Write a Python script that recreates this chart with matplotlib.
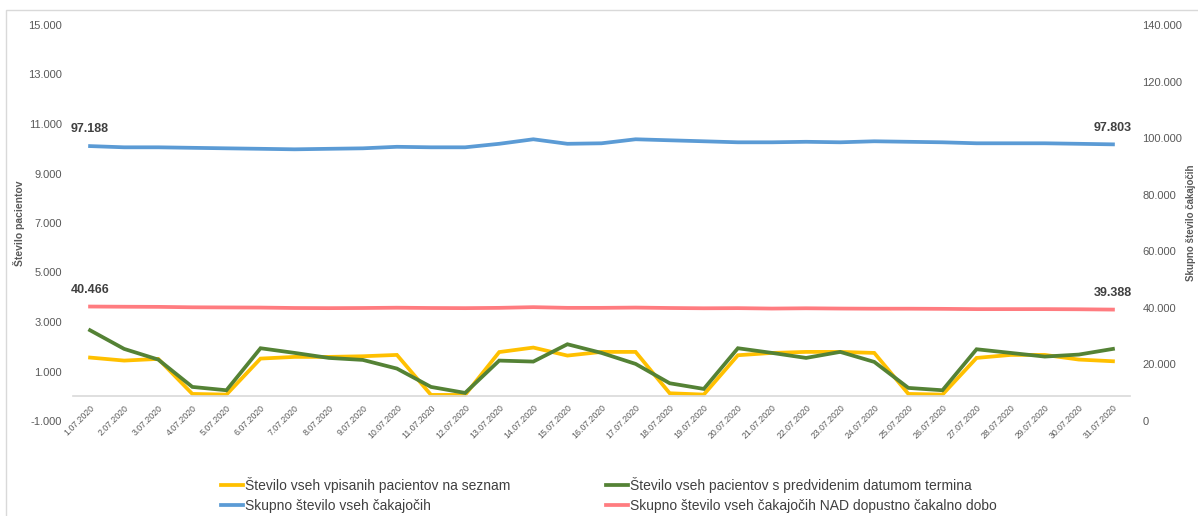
import matplotlib
matplotlib.use("Agg")
import matplotlib.pyplot as plt
from matplotlib.lines import Line2D
from matplotlib.patches import Rectangle
from matplotlib.ticker import FuncFormatter, FixedLocator

dates = ["1.07.2020", "2.07.2020", "3.07.2020", "4.07.2020", "5.07.2020", "6.07.2020",
         "7.07.2020", "8.07.2020", "9.07.2020", "10.07.2020", "11.07.2020", "12.07.2020",
         "13.07.2020", "14.07.2020", "15.07.2020", "16.07.2020", "17.07.2020", "18.07.2020",
         "19.07.2020", "20.07.2020", "21.07.2020", "22.07.2020", "23.07.2020", "24.07.2020",
         "25.07.2020", "26.07.2020", "27.07.2020", "28.07.2020", "29.07.2020", "30.07.2020",
         "31.07.2020"]

vpisani = [1563, 1441, 1509, 94, 67, 1522, 1590, 1590, 1616, 1670, 54, 54, 1785, 1967, 1643,
           1792, 1792, 121, 67, 1657, 1751, 1792, 1792, 1751, 94, 67, 1549, 1670, 1670, 1482, 1414]
s_terminom = [2667, 1913, 1482, 377, 242, 1940, 1751, 1549, 1468, 1118, 377, 135, 1441, 1401, 2101,
              1751, 1307, 525, 296, 1940, 1751, 1549, 1792, 1387, 337, 242, 1899, 1751, 1603, 1684, 1913]
skupno = [97188, 96760, 96760, 96580, 96400, 96230, 96050, 96230, 96400, 96940, 96760, 96760,
          98000, 99600, 98000, 98180, 99600, 99240, 98890, 98530, 98530, 98710, 98530, 98890,
          98710, 98530, 98180, 98180, 98180, 98000, 97803]
nad_dobo = [40466, 40400, 40350, 40200, 40150, 40100, 39950, 39900, 39950, 40050, 39950, 39900,
            40000, 40250, 40000, 40000, 40100, 39950, 39850, 39900, 39750, 39850, 39750, 39700,
            39700, 39650, 39550, 39550, 39550, 39500, 39388]

labels = ["Število vseh vpisanih pacientov na seznam",
          "Število vseh pacientov s predvidenim datumom termina",
          "Skupno število vseh čakajočih",
          "Skupno število vseh čakajočih NAD dopustno čakalno dobo"]

c_yellow = "#FFC000"
c_green = "#548235"
c_blue = "#5B9BD5"
c_red = "#FF7C80"
txt = "#595959"
dark = "#404040"

plt.rcParams['font.family'] = ['Liberation Sans', 'DejaVu Sans']

W, H = 1198, 516
fig = plt.figure(figsize=(W / 100, H / 100), dpi=100)
fig.patches.append(Rectangle((6 / W, 0 - 0.02), 1.05, (H - 10) / H + 0.02, transform=fig.transFigure,
                             fill=False, edgecolor="#d9d9d9", linewidth=1.0))

ax = fig.add_axes([73 / W, (H - 421) / H, 1057 / W, 396 / H])
ax2 = ax.twinx()

for s in ['left', 'right', 'top']:
    ax.spines[s].set_visible(False)
for s in ax2.spines.values():
    s.set_visible(False)
ax.spines['bottom'].set_position(('data', 0))
ax.spines['bottom'].set_color("#d9d9d9")
ax.spines['bottom'].set_linewidth(1.2)

x = list(range(len(dates)))
lw = 2.7
ax.plot(x, vpisani, color=c_yellow, lw=lw, solid_joinstyle='miter')
ax.plot(x, s_terminom, color=c_green, lw=lw, solid_joinstyle='miter')
ax2.plot(x, skupno, color=c_blue, lw=lw)
ax2.plot(x, nad_dobo, color=c_red, lw=lw)

ax.set_xlim(-0.5, len(dates) - 0.5)
ax.set_ylim(-1000, 15000)
ax2.set_ylim(0, 140000)

fmt = FuncFormatter(lambda v, p: f"{v:,.0f}".replace(",", "."))
ax.yaxis.set_major_locator(FixedLocator(list(range(-1000, 15001, 2000))))
ax2.yaxis.set_major_locator(FixedLocator(list(range(0, 140001, 20000))))
ax.yaxis.set_major_formatter(fmt)
ax2.yaxis.set_major_formatter(fmt)

ax.set_xticks(x)
ax.set_xticklabels(dates)
ax.tick_params(axis='x', length=0, pad=5, labelsize=6.3, labelcolor=txt, labelrotation=45)
for t in ax.get_xticklabels():
    t.set_ha('right')
    t.set_rotation_mode('anchor')
ax.tick_params(axis='y', length=0, pad=8, labelsize=8, labelcolor=txt)
ax2.tick_params(axis='y', length=0, pad=9, labelsize=8, labelcolor=txt)

# data labels
for series, idx in [(skupno, 0), (skupno, len(dates) - 1), (nad_dobo, 0), (nad_dobo, len(dates) - 1)]:
    ax2.annotate(f"{series[idx]:,.0f}".replace(",", "."), (idx, series[idx]),
                 xytext=(0, 12), textcoords='offset points', ha='center', va='center',
                 fontsize=9, fontweight='bold', color=dark)

fig.text(19 / W, 1 - 223 / H, "Število pacientov", rotation=90, ha='center', va='center',
         fontsize=7.5, fontweight='bold', color=txt)
fig.text(1191 / W, 1 - 223 / H, "Skupno število čakajočih", rotation=90, ha='center', va='center',
         fontsize=7, fontweight='bold', color=txt)

h_y = Line2D([], [], color=c_yellow, lw=lw)
h_g = Line2D([], [], color=c_green, lw=lw)
h_b = Line2D([], [], color=c_blue, lw=lw)
h_r = Line2D([], [], color=c_red, lw=lw)
leg_kw = dict(frameon=False, fontsize=10, handlelength=1.6, handletextpad=0.15,
              labelspacing=0.45, borderaxespad=0, borderpad=0, labelcolor=dark)
fig.legend([h_y, h_b], [labels[0], labels[2]], loc='upper left',
           bbox_to_anchor=(221 / W, 1 - 477 / H), **leg_kw)
fig.legend([h_g, h_r], [labels[1], labels[3]], loc='upper left',
           bbox_to_anchor=(606 / W, 1 - 477 / H), **leg_kw)

fig.savefig("out.png", dpi=100)
